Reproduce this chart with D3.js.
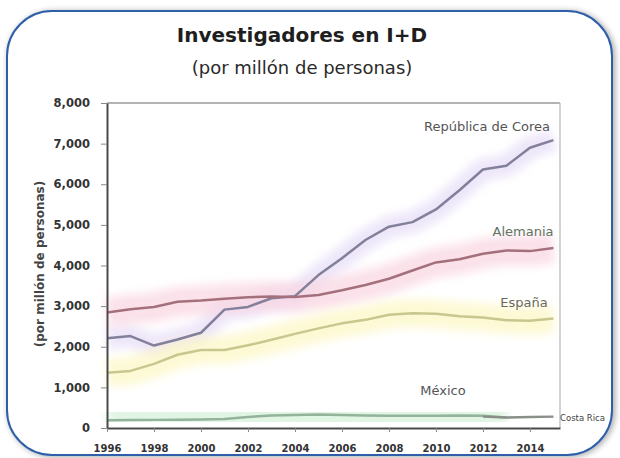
<!DOCTYPE html>
<html><head><meta charset="utf-8">
<script src="https://cdn.jsdelivr.net/npm/d3@7/dist/d3.min.js"></script>
<style>body{margin:0;background:#fff}svg{display:block}</style>
</head><body>
<script>
const years = [1996,1997,1998,1999,2000,2001,2002,2003,2004,2005,2006,2007,2008,2009,2010,2011,2012,2013,2014,2015];
const corea    = [2211,2262,2029,2180,2345,2914,2981,3193,3245,3764,4180,4628,4955,5068,5380,5853,6362,6457,6899,7087];
const alemania = [2843,2921,2977,3108,3136,3183,3221,3236,3225,3276,3389,3520,3675,3877,4076,4153,4291,4372,4354,4431];
const espana   = [1359,1405,1578,1804,1921,1920,2035,2171,2316,2452,2576,2662,2790,2827,2814,2753,2719,2655,2641,2696];
const mexicoYears = [1996,1997,1998,1999,2000,2001,2002,2003,2004,2005,2006,2007,2008,2009,2010,2011,2012,2013];
const mexico   = [190,195,200,205,210,220,270,310,320,330,320,310,300,300,300,310,300,260];
const otroYears = [2012,2013,2014,2015];
const otro     = [280,260,270,280];
const yTicks = [0,1000,2000,3000,4000,5000,6000,7000,8000];
const xTicks = [1996,1998,2000,2002,2004,2006,2008,2010,2012,2014];

const FONT = "DejaVu Sans, Verdana, sans-serif";
const W = 620, H = 458;
const svg = d3.select("body").append("svg").attr("width", W).attr("height", H);
const defs = svg.append("defs");
const sh = defs.append("filter").attr("id","shadow").attr("x","-5%").attr("y","-5%").attr("width","110%").attr("height","110%");
sh.append("feGaussianBlur").attr("in","SourceAlpha").attr("stdDeviation",3);
sh.append("feOffset").attr("dx",2).attr("dy",1).attr("result","ob");
sh.append("feComponentTransfer").append("feFuncA").attr("type","linear").attr("slope",0.35);
const m = sh.append("feMerge"); m.append("feMergeNode"); m.append("feMergeNode").attr("in","SourceGraphic");
const glow = defs.append("filter").attr("id","glow").attr("x","-10%").attr("y","-30%").attr("width","120%").attr("height","160%");
glow.append("feGaussianBlur").attr("stdDeviation",5);

// frame
svg.append("rect").attr("x",7).attr("y",11).attr("width",605).attr("height",444).attr("rx",45).attr("ry",45)
  .attr("fill","#fff").attr("stroke","#2f5ea8").attr("stroke-width",2).attr("filter","url(#shadow)");

const x = d3.scaleLinear().domain([1996, 2015.28]).range([107, 560]);
const y = d3.scaleLinear().domain([0, 8000]).range([428, 103]);

const series = [
  {name:"República de Corea", xs:years, vals:corea, line:"#82809a", glow:"#e6dcf6", gw:22},
  {name:"Alemania", xs:years, vals:alemania, line:"#a4707c", glow:"#f9d4df", gw:30},
  {name:"España", xs:years, vals:espana, line:"#c9c78e", glow:"#fcf7c2", gw:28},
  {name:"México", xs:mexicoYears, vals:mexico, line:"#93b39a", glow:"#d4f1da", gw:30},
  {name:"Costa Rica", xs:otroYears, vals:otro, line:"#8a8f8a", glow:"#e4e8e4", gw:14}
];
const lineGen = d3.line().x(d=>x(d[0])).y(d=>y(d[1]));
const gG = svg.append("g");
series.forEach(s=>{
  const pts = s.xs.map((yr,i)=>[yr, s.vals[i]]);
  gG.append("path").attr("d", lineGen(pts)).attr("fill","none").attr("stroke", s.glow)
    .attr("stroke-width", s.gw).attr("stroke-opacity",0.7).attr("stroke-linejoin","round").attr("filter","url(#glow)");
});
const lG = svg.append("g");
series.forEach(s=>{
  const pts = s.xs.map((yr,i)=>[yr, s.vals[i]]);
  lG.append("path").attr("d", lineGen(pts)).attr("fill","none").attr("stroke", s.line)
    .attr("stroke-width", 2.5).attr("stroke-linejoin","round");
});

// plot border top & right
svg.append("line").attr("x1",107).attr("x2",560).attr("y1",y(8000)).attr("y2",y(8000)).attr("stroke","#9a9a9a").attr("stroke-width",1.5);
svg.append("line").attr("x1",560).attr("x2",560).attr("y1",y(8000)).attr("y2",y(0)).attr("stroke","#c4c4c4").attr("stroke-width",1.5);

const yAxis = svg.append("g").attr("transform","translate(107,0)")
  .call(d3.axisLeft(y).tickValues(yTicks).tickFormat(d3.format(",")).tickSize(6).tickSizeOuter(0).tickPadding(11));
const xAxis = svg.append("g").attr("transform",`translate(0,${y(0)})`)
  .call(d3.axisBottom(x).tickValues(xTicks).tickFormat(d=>String(d)).tickSize(4).tickSizeOuter(0).tickPadding(13));
[yAxis, xAxis].forEach(a=>{
  a.select(".domain").attr("stroke","#4a4a4a").attr("stroke-width",2);
  a.selectAll(".tick line").attr("stroke","#888");
  a.selectAll("text").attr("font-family",FONT).attr("font-weight","bold").attr("fill","#333");
});
yAxis.selectAll("text").attr("font-size",11.5);
xAxis.selectAll("text").attr("font-size",10);

// titles
svg.append("text").attr("x",302).attr("y",42).attr("text-anchor","middle")
  .attr("font-family",FONT).attr("font-size",20).attr("font-weight","bold")
  .attr("fill","#1e1e1e").text("Investigadores en I+D");
svg.append("text").attr("x",302).attr("y",74).attr("text-anchor","middle")
  .attr("font-family",FONT).attr("font-size",18)
  .attr("fill","#2a2a2a").text("(por millón de personas)");
svg.append("text").attr("transform","translate(44,264) rotate(-90)").attr("text-anchor","middle")
  .attr("font-family",FONT).attr("font-size",12).attr("font-weight","bold")
  .attr("fill","#444").text("(por millón de personas)");

// series labels
const labels = [
  {t:"República de Corea", x:487, y:131, c:"#555", fs:13, a:"middle"},
  {t:"Alemania", x:523, y:236, c:"#5e7462", fs:13, a:"middle"},
  {t:"España", x:524, y:307, c:"#6a6a5e", fs:13, a:"middle"},
  {t:"México", x:443, y:395, c:"#555", fs:13, a:"middle"},
  {t:"Costa Rica", x:560, y:421, c:"#444", fs:8.5, a:"start"}
];
svg.append("g").selectAll("text").data(labels).join("text")
  .attr("x",d=>d.x).attr("y",d=>d.y).attr("text-anchor",d=>d.a)
  .attr("font-family",FONT).attr("font-size",d=>d.fs)
  .attr("fill",d=>d.c).text(d=>d.t);
</script>
</body></html>
